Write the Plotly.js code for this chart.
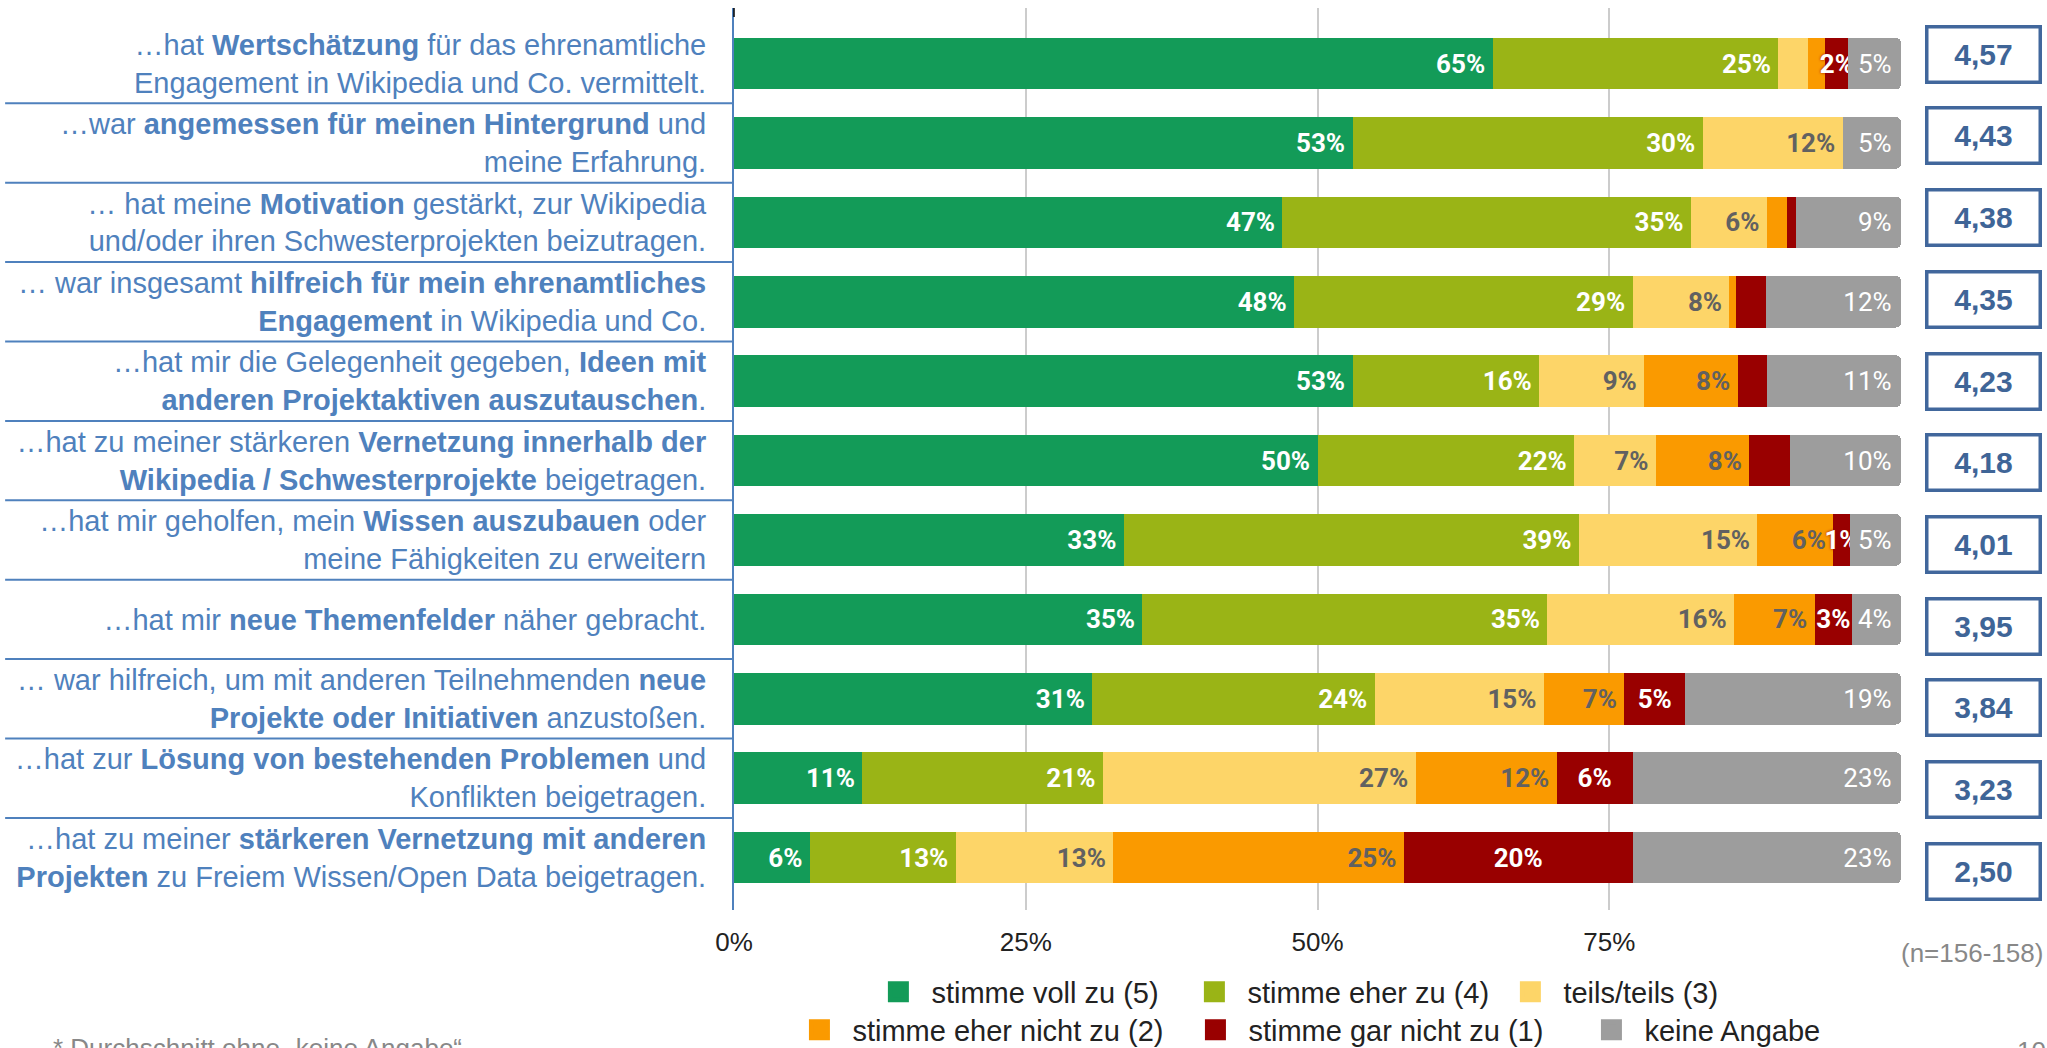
<!DOCTYPE html>
<html>
<head>
<meta charset="utf-8">
<script src="https://cdn.plot.ly/plotly-3.0.1.min.js"></script>
<style>
html,body{margin:0;padding:0;background:#fff;}
#chart{width:2047px;height:1048px;}
</style>
</head>
<body>
<div id="chart"></div>
<script>
// ---------- DATA ----------
const categories = [
  "…hat <b>Wertschätzung</b> für das ehrenamtliche<br>Engagement in Wikipedia und Co. vermittelt.",
  "…war <b>angemessen für meinen Hintergrund</b> und<br>meine Erfahrung.",
  "… hat meine <b>Motivation</b> gestärkt, zur Wikipedia<br>und/oder ihren Schwesterprojekten beizutragen.",
  "… war insgesamt <b>hilfreich für mein ehrenamtliches</b><br><b>Engagement</b> in Wikipedia und Co.",
  "…hat mir die Gelegenheit gegeben, <b>Ideen mit</b><br><b>anderen Projektaktiven auszutauschen</b>.",
  "…hat zu meiner stärkeren <b>Vernetzung innerhalb der</b><br><b>Wikipedia / Schwesterprojekte</b> beigetragen.",
  "…hat mir geholfen, mein <b>Wissen auszubauen</b> oder<br>meine Fähigkeiten zu erweitern",
  "…hat mir <b>neue Themenfelder</b> näher gebracht.",
  "… war hilfreich, um mit anderen Teilnehmenden <b>neue</b><br><b>Projekte oder Initiativen</b> anzustoßen.",
  "…hat zur <b>Lösung von bestehenden Problemen</b> und<br>Konflikten beigetragen.",
  "…hat zu meiner <b>stärkeren Vernetzung mit anderen</b><br><b>Projekten</b> zu Freiem Wissen/Open Data beigetragen."
];

const seriesNames = ["stimme voll zu (5)", "stimme eher zu (4)", "teils/teils (3)",
                     "stimme eher nicht zu (2)", "stimme gar nicht zu (1)", "keine Angabe"];

const stimmeVoll      = [65, 53, 47, 48, 53, 50, 33.4, 35, 30.7, 11, 6.5];
const stimmeEher      = [24.5, 30, 35, 29, 16, 22, 39, 34.7, 24.2, 20.6, 12.5];
const teilsTeils      = [2.5, 12, 6.5, 8.3, 9, 7, 15.3, 16, 14.5, 26.8, 13.5];
const eherNicht       = [1.5, 0, 1.7, 0.6, 8, 8, 6.5, 6.9, 6.9, 12.1, 24.9];
const garNicht        = [2, 0, 0.8, 2.5, 2.5, 3.5, 1.4, 3.2, 5.2, 6.5, 19.6];
const keineAngabe     = [4.5, 5, 9, 11.6, 11.5, 9.5, 4.4, 4.2, 18.5, 23, 23];

const labelsVoll      = ["65%","53%","47%","48%","53%","50%","33%","35%","31%","11%","6%"];
const labelsEher      = ["25%","30%","35%","29%","16%","22%","39%","35%","24%","21%","13%"];
const labelsTeils     = ["","12%","6%","8%","9%","7%","15%","16%","15%","27%","13%"];
const labelsEherNicht = ["","","","","8%","8%","6%","7%","7%","12%","25%"];
const labelsGarNicht  = ["2%","","","","","","1%","3%","5%","6%","20%"];
const labelsKeine     = ["5%","5%","9%","12%","11%","10%","5%","4%","19%","23%","23%"];

const scores = [4.57, 4.43, 4.38, 4.35, 4.23, 4.18, 4.01, 3.95, 3.84, 3.23, 2.50];

const xTickVals = [0, 25, 50, 75, 100];
const xTickText = ["0%", "25%", "50%", "75%", ""];

// ---------- STYLE ----------
const colors = ["#139B58", "#9AB416", "#FDD568", "#FA9A00", "#990000", "#9D9D9D"];
const textColors = ["#ffffff", "#ffffff", "#616161", "#616161", "#ffffff", "#ffffff"];
const textWeights = [700, 700, 700, 700, 700, 400];
const textAnchors = ["end", "end", "end", "end", "middle", "end"];
const values = [stimmeVoll, stimmeEher, teilsTeils, eherNicht, garNicht, keineAngabe];
const labels = [labelsVoll, labelsEher, labelsTeils, labelsEherNicht, labelsGarNicht, labelsKeine];

const W = 2047, H = 1048;
const margin = {l: 733.5, r: 145.5, t: 8, b: 138, autoexpand: false};
const plotW = W - margin.l - margin.r;
const plotH = H - margin.t - margin.b;
const yTop = -0.70, yBottom = 10.66;
const px2x = px => (px - margin.l) / plotW;
const px2y = py => 1 - (py - margin.t) / plotH;
const v2y = v => (yBottom - v) / (yBottom - yTop);

const idx = categories.map((_, i) => i);
const labelFont = "Liberation Sans, Arial, sans-serif";

const traces = values.map((vals, s) => ({
  type: "bar",
  orientation: "h",
  name: seriesNames[s],
  x: vals,
  y: idx,
  width: 0.65,
  text: labels[s],
  texttemplate: textAnchors[s] === "end" ? "%{text}\u2006" : "%{text}",
  textposition: "inside",
  insidetextanchor: textAnchors[s],
  textangle: 0,
  constraintext: "none",
  textfont: {family: "Roboto, sans-serif", size: 26, color: textColors[s], weight: textWeights[s],
             shadow: s === 4 ? "0px 0px 3px #990000" : "none"},
  marker: {color: colors[s], line: {width: 0}},
  showlegend: false,
  hoverinfo: "skip"
}));

// legend-only entries (larger square symbols)
seriesNames.forEach((n, s) => {
  traces.push({
    type: "scatter", mode: "markers", name: n,
    x: [null], y: [null],
    marker: {symbol: "square", size: 16, color: colors[s], line: {color: colors[s], width: 5}},
    legend: s < 3 ? "legend" : "legend2",
    showlegend: true, hoverinfo: "skip"
  });
});

const shapes = [];
for (let i = 0; i < categories.length - 1; i++) {
  const y = v2y(i + 0.5);
  shapes.push({type: "line", xref: "paper", yref: "paper", x0: px2x(4), x1: 0, y0: y, y1: y,
               line: {color: "#4F81BD", width: 2}});
}
shapes.push({type: "line", xref: "paper", yref: "paper", x0: 0, x1: 0, y0: 1, y1: px2y(17),
             line: {color: "#000000", width: 1.5}});

const annotations = scores.map((sc, i) => ({
  xref: "paper", yref: "y", x: 1, y: i, xanchor: "center", yanchor: "middle",
  xshift: 82.5, yshift: 9.3 - 2.28 * i,
  text: "<b>" + sc.toFixed(2).replace(".", ",") + "</b>",
  showarrow: false, width: 110, height: 52, borderpad: 0, borderwidth: 3.5,
  bordercolor: "#41679C", bgcolor: "#ffffff",
  font: {family: labelFont, size: 30, color: "#3F6597"}
}));
annotations.push({
  xref: "paper", yref: "paper", x: px2x(2046), y: px2y(953), xanchor: "right", yanchor: "middle",
  text: "(n=156-158)", showarrow: false, font: {family: labelFont, size: 26, color: "#888888"}
});
annotations.push({
  xref: "paper", yref: "paper", x: px2x(50), y: px2y(1031), xanchor: "left", yanchor: "top",
  text: "* Durchschnitt ohne „keine Angabe“", showarrow: false,
  font: {family: labelFont, size: 26, color: "#888888"}
});
annotations.push({
  xref: "paper", yref: "paper", x: px2x(2016), y: px2y(1034), xanchor: "left", yanchor: "top",
  text: "10", showarrow: false, font: {family: labelFont, size: 26, color: "#888888"}
});

const layout = {
  width: W, height: H,
  margin: margin,
  paper_bgcolor: "#ffffff", plot_bgcolor: "#ffffff",
  barmode: "stack",
  barcornerradius: 5,
  font: {family: labelFont, color: "#222222"},
  xaxis: {
    range: [0, 100], tickvals: xTickVals, ticktext: xTickText,
    showgrid: true, gridcolor: "#CCCCCC", gridwidth: 2, zeroline: false, showline: false,
    ticks: "", ticklabelstandoff: 14, automargin: false,
    tickfont: {family: labelFont, size: 26, color: "#222222"}, fixedrange: true
  },
  yaxis: {
    range: [yBottom, yTop], tickvals: idx, ticktext: categories,
    showgrid: false, zeroline: false, showline: true, linecolor: "#4F81BD", linewidth: 2,
    ticks: "", ticklabelstandoff: 20, automargin: false,
    tickfont: {family: labelFont, size: 29, color: "#4F81BD"}, fixedrange: true
  },
  legend: {
    orientation: "h", xref: "paper", yref: "paper", traceorder: "normal",
    x: px2x(865), xanchor: "left", y: px2y(992), yanchor: "middle",
    itemwidth: 56, entrywidth: 245, entrywidthmode: "pixels", itemsizing: "trace",
    font: {family: labelFont, size: 29, color: "#222222"}, bgcolor: "rgba(0,0,0,0)", borderwidth: 0
  },
  legend2: {
    orientation: "h", xref: "paper", yref: "paper", traceorder: "normal",
    x: px2x(1975), xanchor: "right", y: px2y(1030), yanchor: "middle",
    itemwidth: 56, entrywidth: 325, entrywidthmode: "pixels", itemsizing: "trace",
    font: {family: labelFont, size: 29, color: "#222222"}, bgcolor: "rgba(0,0,0,0)", borderwidth: 0
  },
  shapes: shapes,
  annotations: annotations
};

Plotly.newPlot("chart", traces, layout, {displayModeBar: false, staticPlot: true});
</script>
</body>
</html>
